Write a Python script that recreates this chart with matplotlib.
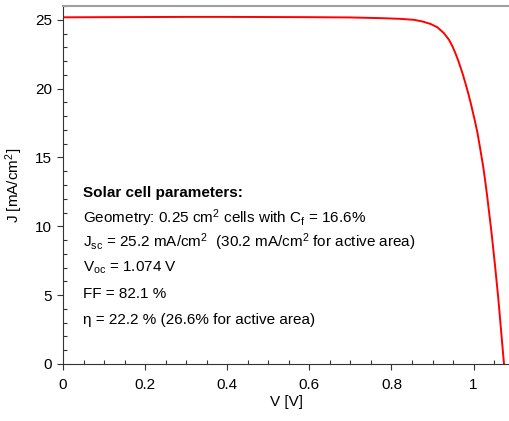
import matplotlib
matplotlib.use('Agg')
import matplotlib.pyplot as plt
from matplotlib.ticker import MultipleLocator

plt.rcParams['font.family'] = ['Liberation Sans', 'DejaVu Sans']
plt.rcParams['mathtext.default'] = 'regular'

# J-V curve
voltage = [0.0, 0.1, 0.2, 0.3, 0.4, 0.5, 0.6, 0.7, 0.773, 0.82, 0.854, 0.875,
           0.895, 0.912, 0.927, 0.94, 0.949, 0.956, 0.963, 0.972, 0.980, 0.987,
           0.993, 1.002, 1.009, 1.016, 1.023, 1.028, 1.033, 1.043, 1.052, 1.060, 1.067, 1.074]
current = [25.18, 25.19, 25.20, 25.21, 25.21, 25.20, 25.19, 25.17, 25.12, 25.07, 25.0, 24.88,
           24.70, 24.45, 24.05, 23.55, 23.04, 22.55, 22.0, 21.2, 20.4, 19.65,
           18.95, 17.8, 16.85, 15.65, 14.4, 13.35, 12.2, 9.7, 7.2, 4.8, 2.4, 0.0]

title = 'Solar cell parameters:'
params = [
    r'Geometry: 0.25 cm$^2$ cells with C$_f$ = 16.6%',
    r'J$_{sc}$ = 25.2 mA/cm$^2$  (30.2 mA/cm$^2$ for active area)',
    r'V$_{oc}$ = 1.074 V',
    r'FF = 82.1 %',
    r'η = 22.2 % (26.6% for active area)',
]
params_y = [0.393, 0.326, 0.258, 0.185, 0.112]

fig = plt.figure(figsize=(5.1, 4.21), dpi=100)
ax = fig.add_axes([0.1235, 0.1354, 0.876, 0.8503])

ax.plot(voltage, current, color='#ff0000', lw=1.4)

ax.set_xlim(0, 1.088)
ax.set_ylim(0, 26)
ax.xaxis.set_major_locator(MultipleLocator(0.2))
ax.xaxis.set_minor_locator(MultipleLocator(0.05))
ax.yaxis.set_major_locator(MultipleLocator(5))
ax.yaxis.set_minor_locator(MultipleLocator(1))
ax.xaxis.set_major_formatter(matplotlib.ticker.FuncFormatter(lambda v, p: '%g' % round(v, 2)))

ax.tick_params(which='major', direction='out', length=4, width=0.8, labelsize=11, color='#333333')
ax.tick_params(axis='x', which='major', pad=6)
ax.tick_params(axis='y', which='major', pad=4)
ax.tick_params(which='minor', direction='in', length=3, width=0.8, color='#333333')

ax.spines['right'].set_visible(False)
ax.spines['top'].set_color('#a0a0a0')
ax.spines['top'].set_linewidth(1.5)
ax.spines['left'].set_color('#333333')
ax.spines['bottom'].set_color('#333333')

ax.set_xlabel('V [V]', fontsize=11, labelpad=2)
ax.set_ylabel('J [mA/cm$^2$]', fontsize=11, labelpad=7)

ax.text(0.045, 0.467, title, transform=ax.transAxes, fontsize=11, fontweight='bold', va='baseline')
for txt, yy in zip(params, params_y):
    ax.text(0.045, yy, txt, transform=ax.transAxes, fontsize=11, va='baseline')

fig.savefig('out.png', dpi=100)
